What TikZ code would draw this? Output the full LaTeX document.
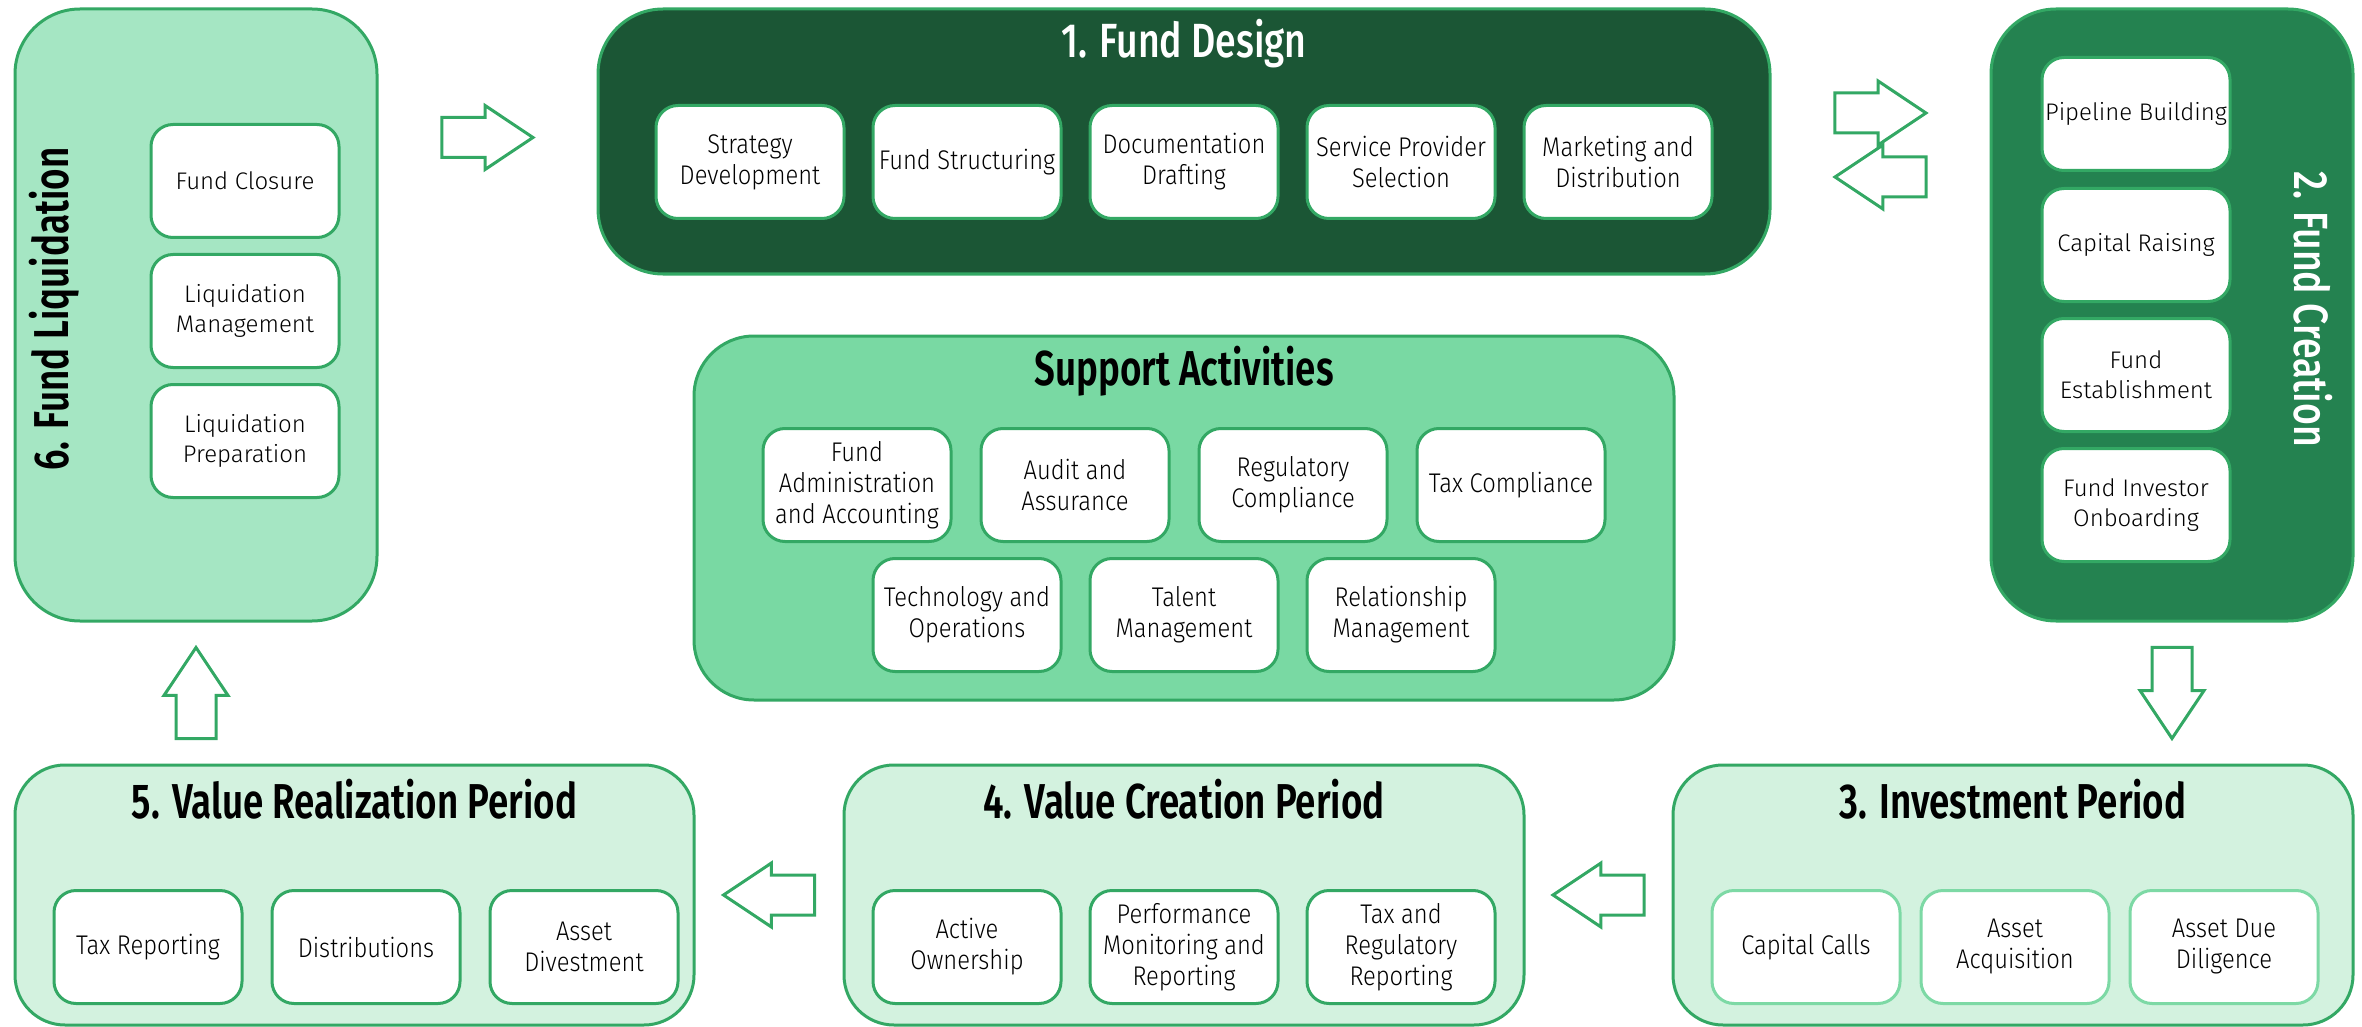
\documentclass[tikz,border=0pt]{standalone}
\usepackage{fontspec}
\setmainfont{Fira Sans Light}[FakeStretch=0.88]
\newfontfamily\widefont{Fira Sans Light}
\newfontfamily\headfont{Fira Sans SemiBold}[FakeStretch=0.75]
\newfontfamily\headfontmed{Fira Sans Medium}[FakeStretch=0.78]
\usetikzlibrary{shapes.arrows,calc,positioning}

\definecolor{edgegreen}{HTML}{33A864}
\definecolor{softedge}{HTML}{7DD9A5}
\definecolor{darkgreen}{HTML}{1B5635}
\definecolor{midgreen}{HTML}{248250}
\definecolor{palegreen}{HTML}{A5E6C3}
\definecolor{supportgreen}{HTML}{79D9A3}
\definecolor{lightgreen}{HTML}{D3F2DF}

\begin{document}
\begin{tikzpicture}[x=1pt,y=-1pt,
  phase/.style={draw=edgegreen, line width=3pt, rounded corners=#1, inner sep=0pt},
  phase/.default=60pt,
  stepbox/.style={draw=edgegreen, fill=white, line width=3pt, rounded corners=22pt,
    minimum width=188pt, minimum height=113pt, inner sep=0pt, align=center,
    font=\fontsize{27}{31}\selectfont},
  widestep/.style={stepbox, font=\widefont\fontsize{24}{30}\selectfont},
  heading/.style={inner sep=0pt, font=\headfont\fontsize{49}{52}\selectfont},
  headingmed/.style={inner sep=0pt, text=white, font=\headfontmed\fontsize{48}{52}\selectfont},
  flowarrow/.style={single arrow, draw=edgegreen, fill=white, line width=3pt,
    minimum height=91pt, minimum width=61pt, inner xsep=0pt, inner ysep=18.5pt,
    single arrow head extend=12pt, single arrow tip angle=67.5}]
\useasboundingbox (0,0) rectangle (2362,1027);

% phases
\node[phase=65pt, fill=palegreen, minimum width=362pt, minimum height=612pt] (liquid) at (196,315) {};
\node[phase=65pt, fill=darkgreen, minimum width=1172pt, minimum height=265pt] (design) at (1184,141.5) {};
\node[phase=65pt, fill=midgreen, minimum width=362pt, minimum height=612pt] (creation) at (2172,315) {};
\node[phase, fill=supportgreen, minimum width=980pt, minimum height=364pt] (support) at (1184,518) {};
\node[phase=50pt, fill=lightgreen, minimum width=680pt, minimum height=260pt] (invest) at (2013,895) {};
\node[phase=50pt, fill=lightgreen, minimum width=680pt, minimum height=260pt] (valuecr) at (1184,895) {};
\node[phase=50pt, fill=lightgreen, minimum width=679pt, minimum height=260pt] (valuerl) at (354.5,895) {};

% titles
\node[heading, rotate=90] (liquidtitle) at ($(liquid.west)+(41,-6)$) {6. Fund Liquidation};
\node[headingmed] (designtitle) at ($(design.north)+(0,36)$) {1. Fund Design};
\node[headingmed, rotate=-90] (creationtitle) at ($(creation.east)+(-41,-6)$) {2. Fund Creation};
\node[heading] (supporttitle) at ($(support.north)+(0,37)$) {Support Activities};
\node[heading] (investtitle) at ($(invest.north)+(0,36)$) {3. Investment Period};
\node[heading] (valuecrtitle) at ($(valuecr.north)+(0,36)$) {4. Value Creation Period};
\node[heading] (valuerltitle) at ($(valuerl.north)+(0,36)$) {5. Value Realization Period};

% 6. fund liquidation
\node[widestep] (closure) at (245,181) {Fund Closure};
\node[widestep] (liqmgmt) at (245,311) {Liquidation\\Management};
\node[widestep] (liqprep) at (245,441) {Liquidation\\Preparation};

% 1. fund design
\node[stepbox] (strategy) at (750,162) {Strategy\\Development};
\node[stepbox] (structuring) at (967,162) {Fund Structuring};
\node[stepbox] (drafting) at (1184,162) {Documentation\\Drafting};
\node[stepbox] (provider) at (1401,162) {Service Provider\\Selection};
\node[stepbox] (marketing) at (1618,162) {Marketing and\\Distribution};

% 2. fund creation
\node[widestep] (pipeline) at (2136,114) {Pipeline Building};
\node[widestep] (raising) at (2136,245) {Capital Raising};
\node[widestep] (establish) at (2136,375) {Fund\\Establishment};
\node[widestep] (onboarding) at (2136,505) {Fund Investor\\Onboarding};

% support activities
\node[stepbox] (admin) at (857,485) {Fund\\Administration\\and Accounting};
\node[stepbox] (audit) at (1075,485) {Audit and\\Assurance};
\node[stepbox] (regulatory) at (1293,485) {Regulatory\\Compliance};
\node[stepbox] (taxcomp) at (1511,485) {Tax Compliance};
\node[stepbox] (technology) at (967,615) {Technology and\\Operations};
\node[stepbox] (talent) at (1184,615) {Talent\\Management};
\node[stepbox] (relation) at (1401,615) {Relationship\\Management};

% 3. investment period
\node[stepbox, draw=softedge] (calls) at (1806,947) {Capital Calls};
\node[stepbox, draw=softedge] (acquisition) at (2015,947) {Asset\\Acquisition};
\node[stepbox, draw=softedge] (diligence) at (2224,947) {Asset Due\\Diligence};

% 4. value creation period
\node[stepbox] (ownership) at (967,947) {Active\\Ownership};
\node[stepbox] (monitoring) at (1184,947) {Performance\\Monitoring and\\Reporting};
\node[stepbox] (regreport) at (1401,947) {Tax and\\Regulatory\\Reporting};

% 5. value realization period
\node[stepbox] (taxreport) at (148,947) {Tax Reporting};
\node[stepbox] (distrib) at (366,947) {Distributions};
\node[stepbox] (divest) at (584,947) {Asset\\Divestment};

% flow arrows between phases
\node[flowarrow, yshift=4pt, xshift=-15pt] (liquid2design) at ($(liquid.east |- design.west)!0.5!(design.west)$) {};
\node[flowarrow, yshift=28.5pt, xshift=-15pt] (design2creation) at ($(design.east)!0.5!(creation.west |- design.east)$) {};
\node[flowarrow, rotate=180, yshift=35.5pt, xshift=-15pt] (creation2design) at ($(design.east)!0.5!(creation.west |- design.east)$) {};
\node[flowarrow, rotate=-90, xshift=-15pt] (creation2invest) at ($(creation.south)!0.5!(invest.north -| creation.south)$) {};
\node[flowarrow, rotate=180, xshift=-15pt] (invest2valuecr) at ($(invest.west)!0.5!(valuecr.east)$) {};
\node[flowarrow, rotate=180, xshift=-15pt] (valuecr2valuerl) at ($(valuecr.west)!0.5!(valuerl.east)$) {};
\node[flowarrow, rotate=90, xshift=-15pt] (valuerl2liquid) at ($(valuerl.north -| liquid.south)!0.5!(liquid.south)$) {};
\end{tikzpicture}
\end{document}
